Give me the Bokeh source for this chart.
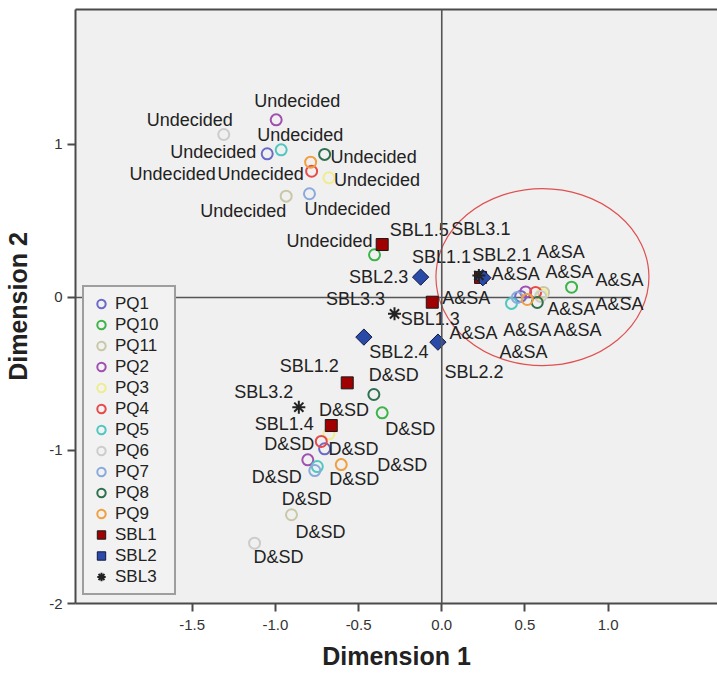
import numpy as np
from bokeh.plotting import figure
from bokeh.models import (Range1d, FixedTicker, Legend, LegendItem, Span, LinearAxis,
                          PrintfTickFormatter, ColumnDataSource)
from bokeh.embed import file_html
from bokeh.resources import INLINE
from bokeh.core.properties import value

# ---------------- data ----------------
pq_names = ["PQ1", "PQ10", "PQ11", "PQ2", "PQ3", "PQ4", "PQ5", "PQ6", "PQ7", "PQ8", "PQ9"]
pq_colors = ["#6a6ac8", "#3cb44a", "#c8c8a8", "#a050b0", "#f0ec90", "#e84a4a",
             "#4ec8c0", "#cccccc", "#88aadc", "#2e7050", "#f0a040"]
category_labels = ["Undecided", "A&SA", "D&SD"]

undecided_dim1 = [-1.049, -0.404, -0.935, -0.995, -0.678, -0.782, -0.965, -1.310, -0.795, -0.704, -0.788]
undecided_dim2 = [0.939, 0.279, 0.662, 1.161, 0.782, 0.825, 0.965, 1.065, 0.678, 0.935, 0.884]

asa_dim1 = [0.474, 0.780, 0.612, 0.504, 0.600, 0.564, 0.419, 0.594, 0.454, 0.574, 0.514]
asa_dim2 = [0.007, 0.067, 0.033, 0.036, 0.020, 0.033, -0.039, 0.007, 0.000, -0.033, -0.013]

dsd_dim1 = [-0.704, -0.358, -0.903, -0.805, -0.678, -0.724, -0.748, -1.125, -0.763, -0.408, -0.604]
dsd_dim2 = [-0.989, -0.754, -1.420, -1.061, -0.891, -0.941, -1.105, -1.606, -1.131, -0.634, -1.092]

sbl1_labels = ["SBL1.1", "SBL1.2", "SBL1.3", "SBL1.4", "SBL1.5"]
sbl1_dim1 = [0.233, -0.568, -0.057, -0.664, -0.358]
sbl1_dim2 = [0.131, -0.558, -0.031, -0.837, 0.346]

sbl2_labels = ["SBL2.1", "SBL2.2", "SBL2.3", "SBL2.4"]
sbl2_dim1 = [0.247, -0.023, -0.127, -0.468]
sbl2_dim2 = [0.129, -0.292, 0.133, -0.259]

sbl3_labels = ["SBL3.1", "SBL3.2", "SBL3.3"]
sbl3_dim1 = [0.223, -0.859, -0.284]
sbl3_dim2 = [0.144, -0.717, -0.107]

x_ticks = [-1.5, -1.0, -0.5, 0.0, 0.5, 1.0]
y_ticks = [-2, -1, 0, 1]

# ---------------- layout of labels (pixel offsets) ----------------
undecided_dx = [-54, -45, -43, 21, 48, -51, 19, -34, 38, 49, -138]
undecided_dy = [-2, -14, 15, -19, 2, 3, -15, -15, 15, 3, 12]
asa_dx = [40, 48, 34, -10, 78, 34, -38, -17, -51, 34, 0]
asa_dy = [-44, -7, 38, -18, 10, -20, 30, 56, 1, 6, 31]
dsd_dx = [29, 28, 29, -31, 15, -32, 37, 24, -8, 20, 61]
dsd_dy = [0, 16, 17, 17, -24, 3, 12, 14, 28, -19, 0]
sbl1_dx = [-39, -38, -2, -47, 37]
sbl1_dy = [-20, -17, 17, -2, -15]
sbl2_dx = [19, 36, -42, 35]
sbl2_dy = [-23, 30, 0, 15]
sbl3_dx = [2, -35, -39]
sbl3_dy = [-46, -15, -15]

ellipse_center = (0.605, 0.133)
ellipse_size = (1.28, 1.157)

X_MIN, X_MAX = -2.201, 1.657
Y_MIN, Y_MAX = -2.0, 1.882
HLINE_END = 1.14

FONT = "Liberation Sans"

p = figure(width=717, height=676, x_range=Range1d(X_MIN, X_MAX), y_range=Range1d(Y_MIN, Y_MAX),
           output_backend="svg", toolbar_location=None,
           min_border_left=75, min_border_right=0, min_border_top=9, min_border_bottom=73)
p.background_fill_color = "#f0f0f0"
p.border_fill_color = "white"
p.outline_line_color = None
p.grid.visible = False

# axes
for ax in (p.xaxis[0], p.yaxis[0]):
    ax.axis_line_color = "#4a4a4a"
    ax.axis_line_width = 2
    ax.major_tick_line_color = "#4a4a4a"
    ax.major_tick_line_width = 2
    ax.major_tick_out = 8
    ax.major_tick_in = 0
    ax.minor_tick_line_color = None
    ax.major_label_text_font = FONT
    ax.major_label_text_font_size = "15px"
    ax.major_label_text_color = "#333333"
    ax.axis_label_text_font = FONT
    ax.axis_label_text_font_style = "bold"
    ax.axis_label_text_font_size = "25px"
    ax.axis_label_text_color = "#222222"

p.xaxis[0].ticker = FixedTicker(ticks=x_ticks)
p.xaxis[0].formatter = PrintfTickFormatter(format="%.1f")
p.xaxis[0].major_label_standoff = 8
p.xaxis[0].axis_label = "Dimension 1"
p.xaxis[0].axis_label_standoff = 9
p.yaxis[0].ticker = FixedTicker(ticks=y_ticks)
p.yaxis[0].formatter = PrintfTickFormatter(format="%d")
p.yaxis[0].major_label_standoff = 5
p.yaxis[0].axis_label = "Dimension 2"
p.yaxis[0].axis_label_standoff = 14

# top frame line (the right side of the frame is cut off in the original)
top_axis = LinearAxis(ticker=FixedTicker(ticks=[]), axis_line_color="#4a4a4a", axis_line_width=2,
                      major_tick_line_color=None, minor_tick_line_color=None,
                      major_label_text_font_size="0px")
p.add_layout(top_axis, "above")

# reference lines
p.segment(x0=[X_MIN], y0=[0], x1=[HLINE_END], y1=[0], line_color="#555555", line_width=1.6)
p.add_layout(Span(location=0, dimension="height", line_color="#555555", line_width=1.6))

# red ellipse
p.ellipse(x=[ellipse_center[0]], y=[ellipse_center[1]], width=[ellipse_size[0]],
          height=[ellipse_size[1]], fill_color=None, line_color="#e05050", line_width=1.2)

legend_items = []
for i, name in enumerate(pq_names):
    r = p.scatter(x=[undecided_dim1[i], asa_dim1[i], dsd_dim1[i]],
                  y=[undecided_dim2[i], asa_dim2[i], dsd_dim2[i]],
                  marker="circle", size=11, fill_color=None,
                  line_color=pq_colors[i], line_width=2)
    legend_items.append(LegendItem(label=name, renderers=[r]))

r1 = p.scatter(x=sbl1_dim1, y=sbl1_dim2, marker="square", size=12,
               fill_color="#a00000", line_color="#1a1a1a", line_width=1)
r2 = p.scatter(x=sbl2_dim1, y=sbl2_dim2, marker="square", size=11.5, angle=np.pi / 4,
               fill_color="#2a4aa8", line_color="#101840", line_width=1)
r3 = p.scatter(x=sbl3_dim1, y=sbl3_dim2, marker="asterisk", size=13,
               line_color="#222222", line_width=2)
legend_items.append(LegendItem(label="SBL1", renderers=[r1]))
legend_items.append(LegendItem(label="SBL2", renderers=[r2]))
legend_items.append(LegendItem(label="SBL3", renderers=[r3]))

# labels
lab_x = list(undecided_dim1) + list(asa_dim1) + list(dsd_dim1) + sbl1_dim1 + sbl2_dim1 + sbl3_dim1
lab_y = list(undecided_dim2) + list(asa_dim2) + list(dsd_dim2) + sbl1_dim2 + sbl2_dim2 + sbl3_dim2
lab_t = ([category_labels[0]] * len(pq_names) + [category_labels[1]] * len(pq_names)
         + [category_labels[2]] * len(pq_names) + sbl1_labels + sbl2_labels + sbl3_labels)
lab_dx = undecided_dx + asa_dx + dsd_dx + sbl1_dx + sbl2_dx + sbl3_dx
lab_dy = undecided_dy + asa_dy + dsd_dy + sbl1_dy + sbl2_dy + sbl3_dy
src = ColumnDataSource(dict(x=lab_x, y=lab_y, t=lab_t, dx=lab_dx, dy=lab_dy))
p.text(x="x", y="y", text="t", x_offset="dx", y_offset="dy", source=src,
       text_font=value(FONT), text_font_size=value("18px"), text_color="#222222",
       text_align="center", text_baseline="middle")

legend = Legend(items=legend_items, location=(7, 8))
legend.label_text_font = FONT
legend.label_text_font_size = "17px"
legend.label_text_color = "#222222"
legend.label_height = 21
legend.glyph_height = 21
legend.glyph_width = 22
legend.label_width = 53
legend.label_standoff = 3
legend.spacing = 0
legend.padding = 6
legend.margin = 0
legend.border_line_color = "#4a4a4a"
legend.border_line_width = 2
legend.background_fill_color = "#f2f2f2"
legend.background_fill_alpha = 1.0
p.add_layout(legend)

open("out.html", "w").write(file_html(p, INLINE))
